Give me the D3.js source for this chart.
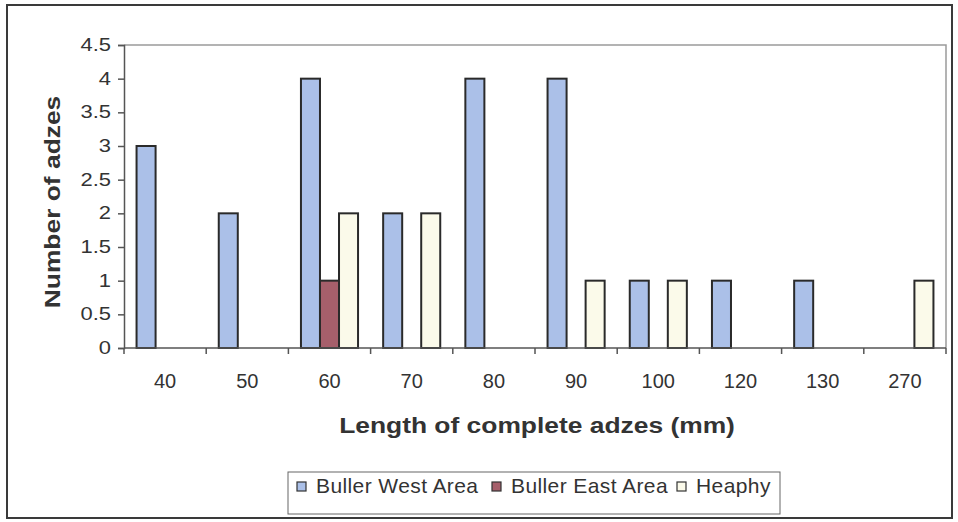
<!DOCTYPE html>
<html>
<head>
<meta charset="utf-8">
<script src="https://cdn.jsdelivr.net/npm/d3@7"></script>
<style>
  body { margin: 0; background: #fff; }
  text { font-family: "Liberation Sans", Arial, sans-serif; fill: #333; }
</style>
</head>
<body>
<script>
// adze lengths, counts per area
var categories = ["40", "50", "60", "70", "80", "90", "100", "120", "130", "270"];
var bullerWest = [3, 2, 4, 2, 4, 4, 1, 1, 1, 0];
var bullerEast = [0, 0, 1, 0, 0, 0, 0, 0, 0, 0];
var heaphy     = [0, 0, 2, 2, 0, 1, 1, 0, 0, 1];
var seriesNames = ["Buller West Area", "Buller East Area", "Heaphy"];
var seriesColors = ["#abc0e8", "#a65f6b", "#fbfaea"];
var yTicks = [0, 0.5, 1, 1.5, 2, 2.5, 3, 3.5, 4, 4.5];

var series = [bullerWest, bullerEast, heaphy];

var W = 958, H = 522;
var plot = {left: 124, right: 946, top: 45, bottom: 348};

var svg = d3.select("body").append("svg")
    .attr("width", W)
    .attr("height", H);

// outer chart frame
svg.append("rect")
    .attr("x", 7).attr("y", 5)
    .attr("width", 945).attr("height", 513)
    .attr("fill", "#fff")
    .attr("stroke", "#3a3a3a")
    .attr("stroke-width", 2);

var x = d3.scaleBand()
    .domain(categories)
    .range([plot.left, plot.right]);

var xs = d3.scaleBand()
    .domain(seriesNames)
    .range([0, x.bandwidth()])
    .paddingInner(0)
    .paddingOuter(0.66);

var y = d3.scaleLinear()
    .domain([0, 4.5])
    .range([plot.bottom, plot.top]);

// plot area border (top + right)
svg.append("path")
    .attr("d", "M" + plot.left + "," + plot.top + "H" + plot.right + "V" + plot.bottom)
    .attr("fill", "none")
    .attr("stroke", "#9a9a9a")
    .attr("stroke-width", 1.5);

// bars
var data = [];
categories.forEach(function(c, i) {
  series.forEach(function(s, j) {
    if (s[i] > 0) data.push({cat: c, name: seriesNames[j], value: s[i], color: seriesColors[j]});
  });
});

svg.append("g").selectAll("rect")
    .data(data)
  .enter().append("rect")
    .attr("x", function(d) { return x(d.cat) + xs(d.name); })
    .attr("y", function(d) { return y(d.value); })
    .attr("width", xs.bandwidth())
    .attr("height", function(d) { return y(0) - y(d.value); })
    .attr("fill", function(d) { return d.color; })
    .attr("stroke", "#2a2a2a")
    .attr("stroke-width", 2);

// y axis (labels drawn separately so they can be widened like the scan)
var yAxis = svg.append("g")
    .attr("transform", "translate(" + plot.left + ",0)")
    .call(d3.axisLeft(y).tickValues(yTicks).tickSize(6).tickFormat(""));
yAxis.selectAll("path, line").attr("stroke", "#555").attr("stroke-width", 1.5);
svg.append("g").selectAll("text")
    .data(yTicks)
  .enter().append("text")
    .attr("transform", function(d) { return "translate(111," + (y(d) + 6) + ") scale(1.22,1)"; })
    .attr("text-anchor", "end")
    .style("font-size", "18px")
    .text(function(d) { return String(d); });

// x axis, ticks on category boundaries
var xAxis = svg.append("g")
    .attr("transform", "translate(0," + plot.bottom + ")");
xAxis.append("line")
    .attr("x1", plot.left).attr("x2", plot.right)
    .attr("stroke", "#555").attr("stroke-width", 1.5);
var bounds = categories.map(function(c) { return x(c); }).concat([plot.right]);
xAxis.selectAll(".tk")
    .data(bounds)
  .enter().append("line")
    .attr("x1", function(d) { return d; })
    .attr("x2", function(d) { return d; })
    .attr("y1", 0).attr("y2", 6)
    .attr("stroke", "#555").attr("stroke-width", 1.5);
xAxis.selectAll(".lbl")
    .data(categories)
  .enter().append("text")
    .attr("x", function(d) { return x(d) + x.bandwidth() / 2; })
    .attr("y", 40)
    .attr("text-anchor", "middle")
    .style("font-size", "20px")
    .text(function(d) { return d; });

// axis titles
svg.append("text")
    .attr("transform", "translate(537,433) scale(1.2,1)")
    .attr("text-anchor", "middle")
    .style("font-size", "22px")
    .style("font-weight", "bold")
    .text("Length of complete adzes (mm)");

svg.append("text")
    .attr("transform", "translate(60,202) rotate(-90) scale(1.2,1)")
    .attr("text-anchor", "middle")
    .style("font-size", "22px")
    .style("font-weight", "bold")
    .text("Number of adzes");

// legend
var legend = svg.append("g");
legend.append("rect")
    .attr("x", 288).attr("y", 472)
    .attr("width", 492).attr("height", 42)
    .attr("fill", "#fff")
    .attr("stroke", "#666")
    .attr("stroke-width", 1);

var legX = [297, 492, 677];
var items = legend.selectAll(".item")
    .data(seriesNames)
  .enter().append("g")
    .attr("transform", function(d, i) { return "translate(" + legX[i] + ",0)"; });
items.append("rect")
    .attr("x", 0).attr("y", 482)
    .attr("width", 9).attr("height", 9)
    .attr("fill", function(d, i) { return seriesColors[i]; })
    .attr("stroke", "#333")
    .attr("stroke-width", 1.2);
items.append("text")
    .attr("x", 19).attr("y", 493)
    .style("font-size", "21px")
    .style("letter-spacing", "0.4px")
    .text(function(d) { return d; });
</script>
</body>
</html>
